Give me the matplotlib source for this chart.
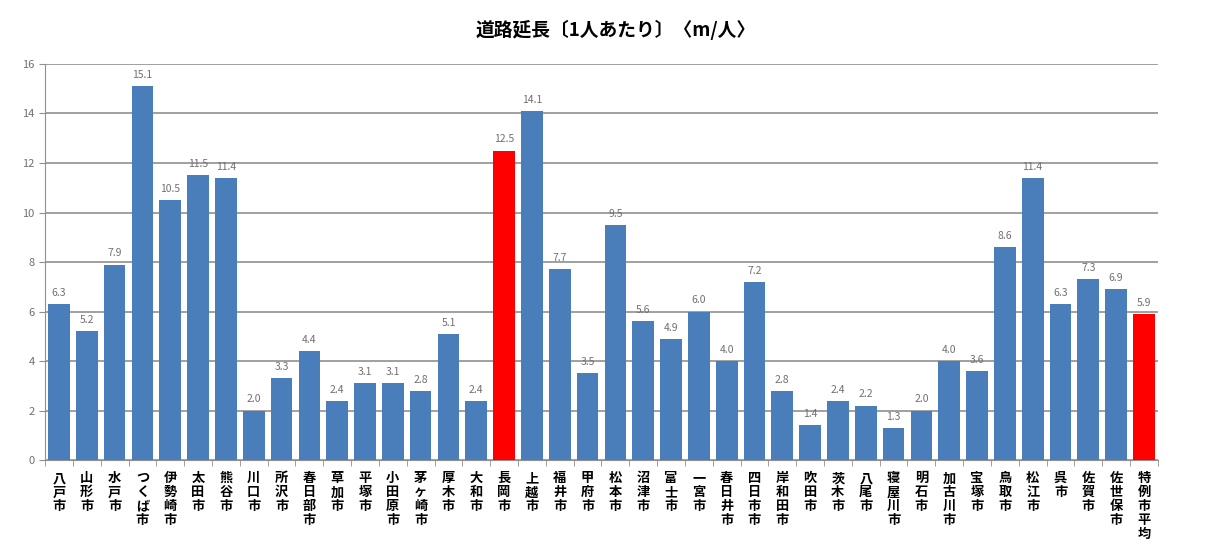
import matplotlib
matplotlib.use("Agg")
import matplotlib.pyplot as plt

plt.rcParams['font.family'] = ['Noto Sans CJK JP', 'DejaVu Sans']

cities = ["八戸市", "山形市", "水戸市", "つくば市", "伊勢崎市", "太田市", "熊谷市", "川口市",
          "所沢市", "春日部市", "草加市", "平塚市", "小田原市", "茅ヶ崎市", "厚木市", "大和市",
          "長岡市", "上越市", "福井市", "甲府市", "松本市", "沼津市", "富士市", "一宮市",
          "春日井市", "四日市市", "岸和田市", "吹田市", "茨木市", "八尾市", "寝屋川市", "明石市",
          "加古川市", "宝塚市", "鳥取市", "松江市", "呉市", "佐賀市", "佐世保市", "特例市平均"]
values = [6.3, 5.2, 7.9, 15.1, 10.5, 11.5, 11.4, 2.0, 3.3, 4.4, 2.4, 3.1, 3.1, 2.8, 5.1, 2.4,
          12.5, 14.1, 7.7, 3.5, 9.5, 5.6, 4.9, 6.0, 4.0, 7.2, 2.8, 1.4, 2.4, 2.2, 1.3, 2.0,
          4.0, 3.6, 8.6, 11.4, 6.3, 7.3, 6.9, 5.9]
highlight = ["長岡市", "特例市平均"]

colors = ['#ff0000' if c in highlight else '#4a7ebb' for c in cities]

fig = plt.figure(figsize=(12.31, 5.42), dpi=100)
ax = fig.add_axes([0.0366, 0.151, 0.904, 0.731])

x = list(range(len(cities)))
ax.bar(x, values, width=0.78, color=colors, zorder=3)

for i, v in enumerate(values):
    ax.text(i, v + 0.25, f"{v:.1f}", ha='center', va='bottom', fontsize=7.5, color='#707070', zorder=4)

ax.set_xlim(-0.5, len(cities) - 0.5)
ax.set_ylim(0, 16)
ax.set_yticks(range(0, 17, 2))
ax.yaxis.grid(True, color='#909090', linewidth=1.2, zorder=0)
ax.tick_params(axis='y', labelsize=8, colors='#707070', length=4, color='#909090')

# vertical stacked labels under the bars
ax.set_xticks(x)
ax.set_xticklabels(['\n'.join(c) for c in cities], fontsize=9.5, fontweight='bold',
                   va='top', linespacing=1.0)
ax.set_xticks([i - 0.5 for i in range(len(cities) + 1)], minor=True)
ax.tick_params(axis='x', which='major', length=0, pad=8)
ax.tick_params(axis='x', which='minor', length=4, color='#909090')

for side in ['top', 'right']:
    ax.spines[side].set_visible(False)
ax.spines['left'].set_color('#909090')
ax.spines['bottom'].set_color('#909090')

fig.text(0.5, 0.945, "道路延長〔1人あたり〕〈m/人〉", ha='center', va='center',
         fontsize=13.5, fontweight='bold')

fig.savefig("out.png", dpi=100)
